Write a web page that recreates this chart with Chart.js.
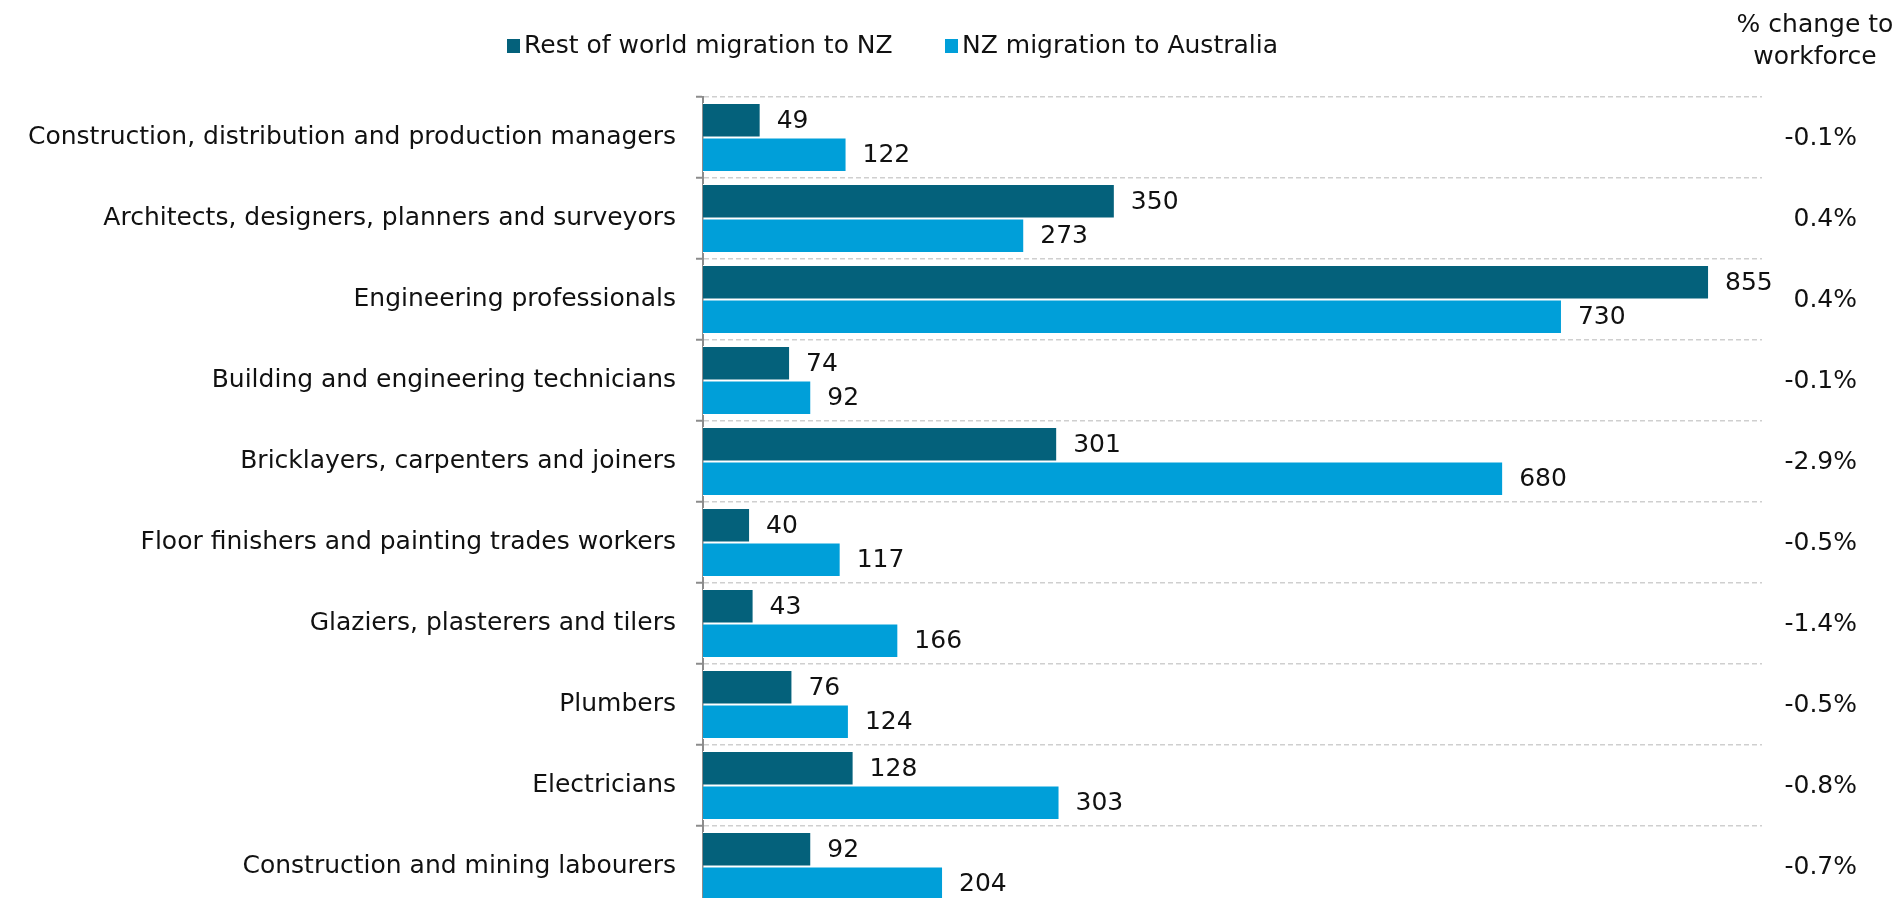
<!DOCTYPE html>
<html>
<head>
<meta charset="utf-8">
<title>Construction workforce migration</title>
<script src="https://cdn.jsdelivr.net/npm/chart.js@4/dist/chart.umd.min.js"></script>
<style>
    html, body { margin: 0; padding: 0; background: #fff; overflow: hidden; }
    #wrap { position: relative; width: 1903px; height: 907px; }
</style>
</head>
<body>
<div id="wrap"><canvas id="myChart"></canvas></div>
<script>
(function () {
    'use strict';

    var occupations = [
        'Construction, distribution and production managers',
        'Architects, designers, planners and surveyors',
        'Engineering professionals',
        'Building and engineering technicians',
        'Bricklayers, carpenters and joiners',
        'Floor finishers and painting trades workers',
        'Glaziers, plasterers and tilers',
        'Plumbers',
        'Electricians',
        'Construction and mining labourers'
    ];
    var restOfWorld = [49, 350, 855, 74, 301, 40, 43, 76, 128, 92];
    var toAustralia = [122, 273, 730, 92, 680, 117, 166, 124, 303, 204];
    var workforceChange = [-0.1, 0.4, 0.4, -0.1, -2.9, -0.5, -1.4, -0.5, -0.8, -0.7];
    var seriesNames = ['Rest of world migration to NZ', 'NZ migration to Australia'];
    var columnTitle = ['% change to', 'workforce'];

    var FONT = '25px "DejaVu Sans", sans-serif';
    var TEXT = '#111111';

    // value labels just past the end of each bar
    var barLabels = {
        id: 'barLabels',
        afterDatasetsDraw: function (chart) {
            var ctx = chart.ctx;
            ctx.save();
            ctx.font = FONT;
            ctx.fillStyle = TEXT;
            ctx.textAlign = 'left';
            ctx.textBaseline = 'middle';
            chart.data.datasets.forEach(function (ds, i) {
                chart.getDatasetMeta(i).data.forEach(function (bar, j) {
                    ctx.fillText(String(ds.data[j]), bar.x + 16, bar.y + 1);
                });
            });
            ctx.restore();
        }
    };

    // right hand column with the workforce change, plus the legend row
    var extras = {
        id: 'extras',
        afterDraw: function (chart) {
            var ctx = chart.ctx;
            var y = chart.scales.y;
            ctx.save();
            ctx.font = FONT;
            ctx.fillStyle = TEXT;
            ctx.textBaseline = 'middle';

            ctx.textAlign = 'center';
            ctx.fillText(columnTitle[0], 1815, 25);
            ctx.fillText(columnTitle[1], 1815, 57);

            ctx.textAlign = 'right';
            workforceChange.forEach(function (v, i) {
                ctx.fillText(v.toFixed(1) + '%', 1857, y.getPixelForValue(i) + 1);
            });

            var legendX = [507, 945];
            ctx.textAlign = 'left';
            chart.data.datasets.forEach(function (ds, i) {
                ctx.fillStyle = ds.backgroundColor;
                ctx.fillRect(legendX[i], 39, 13, 14);
                ctx.fillStyle = TEXT;
                ctx.fillText(ds.label, legendX[i] + 17, 46);
            });
            ctx.restore();
        }
    };

    new Chart(document.getElementById('myChart'), {
        type: 'bar',
        data: {
            labels: occupations,
            datasets: [
                {
                    label: seriesNames[0],
                    data: restOfWorld,
                    backgroundColor: '#04617b',
                    borderColor: '#ffffff',
                    borderWidth: 1
                },
                {
                    label: seriesNames[1],
                    data: toAustralia,
                    backgroundColor: '#009fd9',
                    borderColor: '#ffffff',
                    borderWidth: 1
                }
            ]
        },
        options: {
            indexAxis: 'y',
            responsive: true,
            maintainAspectRatio: false,
            animation: false,
            categoryPercentage: 0.85,
            barPercentage: 1.0,
            layout: {
                padding: { top: 97, right: 141, bottom: 0, left: 0 }
            },
            scales: {
                x: {
                    display: false,
                    min: 0,
                    max: 900
                },
                y: {
                    afterFit: function (scale) {
                        // fixed label column, and no extra room reserved above/below
                        scale.width = 703;
                        scale.paddingTop = 0;
                        scale.paddingBottom = 0;
                    },
                    grid: {
                        color: '#cfcfcf',
                        lineWidth: 1.5,
                        tickLength: 7,
                        tickColor: '#8c8c8c',
                        tickWidth: 2,
                        tickBorderDash: []
                    },
                    border: {
                        display: true,
                        color: '#8c8c8c',
                        width: 2,
                        dash: [5, 3]
                    },
                    ticks: {
                        autoSkip: false,
                        padding: 20,
                        color: TEXT,
                        font: { family: '"DejaVu Sans", sans-serif', size: 25 }
                    }
                }
            },
            plugins: {
                legend: { display: false },
                tooltip: { enabled: false }
            }
        },
        plugins: [barLabels, extras]
    });
})();
</script>
</body>
</html>
